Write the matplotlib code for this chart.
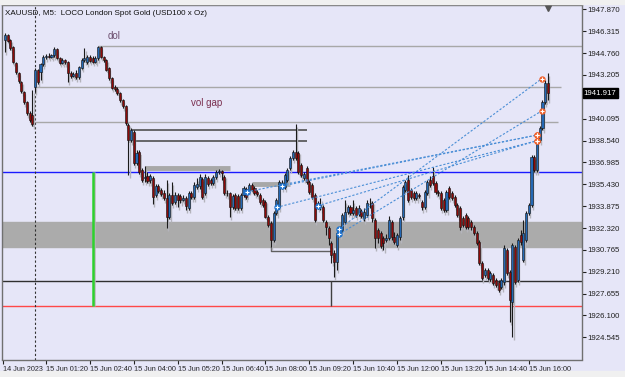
import matplotlib
matplotlib.use('Agg')
import matplotlib.pyplot as plt
from matplotlib.patches import Rectangle

# XAUUSD M5 candles, 14 Jun 22:05 .. 15 Jun 16:35 (bar index = position)
opens = [
    1945.69, 1946.04, 1945.69, 1945.19, 1944.05, 1943.34, 1942.70, 1941.99, 1941.28, 1940.50,
    1940.35, 1942.34, 1943.55, 1943.41, 1943.98, 1944.48, 1944.55, 1944.48, 1944.62, 1945.05,
    1944.41, 1944.05, 1944.26, 1944.12, 1943.34, 1943.13, 1943.34, 1943.06, 1943.70, 1944.26,
    1944.12, 1944.48, 1944.41, 1944.12, 1944.41, 1945.19, 1944.48, 1944.26, 1943.70, 1942.98,
    1942.34, 1942.20, 1941.92, 1941.42, 1940.99, 1939.64, 1938.58, 1939.15, 1936.94, 1937.72,
    1936.44, 1935.87, 1936.02, 1935.73, 1935.87, 1934.67, 1935.31, 1935.02, 1934.81, 1934.45,
    1933.10, 1934.67, 1934.17, 1934.67, 1934.60, 1934.31, 1934.45, 1933.74, 1934.81, 1934.52,
    1935.23, 1935.31, 1935.80, 1934.81, 1935.87, 1935.73, 1935.52, 1935.94, 1936.30, 1936.37,
    1935.94, 1934.81, 1934.81, 1933.81, 1934.67, 1934.60, 1933.74, 1934.67, 1935.09, 1935.02,
    1935.38, 1935.16, 1934.88, 1934.67, 1934.31, 1934.17, 1933.10, 1932.67, 1931.47, 1933.39,
    1933.81, 1935.23, 1935.23, 1935.73, 1936.58, 1937.29, 1937.72, 1937.65, 1936.80, 1935.87,
    1936.58, 1935.59, 1935.38, 1934.67, 1933.81, 1933.96, 1933.81, 1932.75, 1932.32, 1931.25,
    1930.54, 1929.90, 1931.96, 1932.18, 1932.75, 1933.46, 1933.81, 1933.39, 1933.74, 1933.31,
    1933.53, 1933.03, 1933.24, 1934.03, 1934.10, 1932.89, 1932.18, 1931.96, 1931.61, 1931.47,
    1931.61, 1932.75, 1931.68, 1931.11, 1931.68, 1933.10, 1935.02, 1935.73, 1935.02, 1934.81,
    1934.45, 1934.67, 1934.17, 1933.81, 1934.81, 1935.73, 1936.02, 1935.52, 1934.88, 1934.81,
    1934.31, 1933.60, 1935.16, 1934.81, 1934.52, 1933.96, 1933.74, 1933.03, 1933.24, 1933.03,
    1932.75, 1932.39, 1931.96, 1931.32, 1929.83, 1928.98, 1929.33, 1928.69, 1928.98, 1928.62,
    1928.48, 1928.12, 1928.48, 1930.76, 1929.19, 1927.06, 1930.97, 1928.62, 1931.82, 1930.05,
    1931.47, 1933.39, 1933.96, 1937.37, 1936.44, 1938.58, 1939.43, 1941.28, 1942.63,
]
highs = [
    1946.18, 1946.11, 1945.76, 1945.26, 1944.12, 1943.41, 1942.77, 1942.06, 1941.35, 1940.64,
    1942.13, 1943.70, 1943.62, 1944.05, 1944.62, 1944.69, 1944.76, 1944.69, 1945.19, 1945.12,
    1944.48, 1944.41, 1944.34, 1944.19, 1943.48, 1943.41, 1943.55, 1943.84, 1944.41, 1945.12,
    1944.62, 1944.62, 1944.55, 1944.55, 1945.26, 1945.26, 1944.55, 1944.34, 1943.77, 1943.06,
    1942.49, 1942.34, 1941.99, 1941.49, 1941.06, 1939.78, 1939.43, 1939.29, 1937.87, 1937.87,
    1936.58, 1936.73, 1936.30, 1936.16, 1936.02, 1935.45, 1935.45, 1935.16, 1935.02, 1935.73,
    1934.81, 1935.59, 1934.88, 1934.81, 1934.74, 1934.67, 1934.60, 1934.95, 1934.95, 1935.59,
    1935.87, 1936.16, 1935.94, 1936.16, 1936.02, 1935.87, 1936.09, 1936.44, 1936.51, 1936.44,
    1936.09, 1935.02, 1934.88, 1934.74, 1934.81, 1934.74, 1934.81, 1935.31, 1935.23, 1935.52,
    1935.52, 1935.31, 1935.02, 1934.81, 1934.45, 1934.31, 1933.24, 1932.82, 1933.53, 1934.45,
    1935.73, 1935.73, 1936.23, 1936.58, 1937.44, 1937.87, 1939.71, 1937.80, 1936.94, 1936.30,
    1936.73, 1935.73, 1935.52, 1934.81, 1934.24, 1934.45, 1933.96, 1932.89, 1932.46, 1931.40,
    1930.76, 1932.18, 1932.46, 1933.39, 1934.31, 1933.96, 1933.96, 1934.31, 1933.88, 1933.96,
    1933.67, 1933.74, 1934.31, 1934.45, 1934.24, 1933.03, 1932.32, 1932.10, 1931.75, 1931.89,
    1933.17, 1932.89, 1932.03, 1931.96, 1933.17, 1935.38, 1935.73, 1936.09, 1935.16, 1934.95,
    1934.95, 1934.81, 1934.31, 1935.02, 1935.73, 1936.02, 1936.66, 1935.66, 1935.02, 1934.95,
    1934.45, 1935.02, 1935.31, 1934.95, 1934.67, 1934.10, 1933.88, 1933.17, 1933.39, 1933.17,
    1932.89, 1932.53, 1932.10, 1931.47, 1929.97, 1929.48, 1929.48, 1929.26, 1929.12, 1928.77,
    1928.62, 1928.77, 1931.11, 1930.90, 1929.33, 1931.25, 1931.11, 1931.61, 1932.18, 1932.89,
    1933.53, 1934.10, 1937.51, 1937.51, 1938.72, 1939.57, 1941.42, 1942.84, 1943.34,
]
lows = [
    1944.83, 1945.55, 1944.97, 1944.05, 1943.27, 1942.63, 1941.92, 1941.14, 1940.35, 1939.86,
    1939.57, 1941.99, 1942.56, 1942.84, 1943.84, 1944.34, 1944.41, 1944.41, 1944.48, 1944.34,
    1943.98, 1943.98, 1943.98, 1942.70, 1942.98, 1943.06, 1942.91, 1942.91, 1943.62, 1944.12,
    1943.98, 1944.12, 1944.05, 1944.05, 1944.26, 1944.41, 1944.12, 1943.48, 1942.84, 1942.20,
    1942.06, 1941.78, 1941.28, 1940.85, 1939.64, 1936.09, 1938.43, 1936.80, 1936.80, 1936.16,
    1935.59, 1935.59, 1935.52, 1935.52, 1934.03, 1934.52, 1934.81, 1934.60, 1934.31, 1932.32,
    1932.96, 1933.96, 1934.03, 1933.81, 1934.10, 1934.24, 1933.60, 1933.60, 1934.38, 1934.38,
    1935.09, 1935.09, 1934.38, 1934.67, 1935.31, 1935.38, 1935.38, 1935.80, 1936.16, 1935.73,
    1934.67, 1934.60, 1933.10, 1933.67, 1933.60, 1933.60, 1933.60, 1934.52, 1934.38, 1934.88,
    1934.95, 1934.67, 1934.60, 1934.03, 1933.81, 1933.03, 1932.39, 1930.97, 1931.32, 1933.24,
    1933.67, 1935.09, 1935.09, 1935.59, 1936.44, 1937.15, 1937.15, 1936.16, 1935.94, 1935.73,
    1935.45, 1934.74, 1934.38, 1932.75, 1933.67, 1933.60, 1932.75, 1931.82, 1931.11, 1929.83,
    1928.84, 1929.33, 1931.75, 1932.03, 1932.60, 1933.31, 1933.24, 1933.24, 1933.10, 1933.17,
    1933.03, 1932.82, 1933.10, 1933.74, 1932.75, 1930.90, 1931.25, 1930.90, 1930.76, 1931.32,
    1931.47, 1931.47, 1931.18, 1930.97, 1931.47, 1932.89, 1934.88, 1934.17, 1934.38, 1934.31,
    1934.31, 1934.45, 1933.60, 1933.67, 1934.67, 1935.23, 1935.38, 1934.74, 1934.60, 1933.60,
    1933.46, 1933.46, 1934.38, 1934.31, 1933.81, 1933.10, 1932.18, 1932.39, 1932.25, 1932.25,
    1932.18, 1931.82, 1931.11, 1929.69, 1928.62, 1928.84, 1928.62, 1928.55, 1928.27, 1928.12,
    1927.77, 1927.98, 1928.27, 1928.98, 1925.64, 1924.57, 1928.34, 1928.48, 1931.11, 1929.90,
    1931.32, 1933.24, 1933.81, 1936.30, 1936.30, 1938.43, 1939.29, 1941.14, 1941.42,
]
closes = [
    1946.04, 1945.62, 1945.12, 1944.12, 1943.41, 1942.77, 1942.06, 1941.28, 1940.50, 1940.00,
    1939.71, 1943.55, 1942.70, 1943.98, 1944.48, 1944.55, 1944.48, 1944.62, 1945.05, 1944.41,
    1944.05, 1944.26, 1944.12, 1943.34, 1943.13, 1943.27, 1943.06, 1943.77, 1944.26, 1944.41,
    1944.48, 1944.19, 1944.12, 1944.41, 1945.19, 1944.48, 1944.26, 1943.55, 1942.98, 1942.27,
    1942.20, 1941.92, 1941.42, 1940.99, 1939.78, 1938.58, 1939.29, 1936.94, 1937.65, 1936.30,
    1935.73, 1935.94, 1935.66, 1936.02, 1934.52, 1935.31, 1934.95, 1934.74, 1934.45, 1933.10,
    1934.67, 1934.10, 1934.67, 1934.31, 1934.31, 1934.45, 1933.88, 1934.81, 1934.52, 1935.38,
    1935.45, 1935.94, 1934.52, 1935.94, 1935.45, 1935.52, 1935.94, 1936.30, 1936.37, 1936.23,
    1934.81, 1934.78, 1933.81, 1934.60, 1933.74, 1933.74, 1934.67, 1935.16, 1934.52, 1935.38,
    1935.02, 1934.81, 1934.74, 1934.17, 1933.96, 1933.10, 1932.53, 1931.47, 1933.39, 1934.31,
    1935.59, 1935.52, 1936.09, 1936.44, 1937.29, 1937.72, 1937.29, 1936.30, 1936.09, 1936.16,
    1935.59, 1934.88, 1934.52, 1932.89, 1934.10, 1933.81, 1932.89, 1932.39, 1931.61, 1930.40,
    1929.90, 1931.96, 1932.32, 1933.24, 1933.46, 1933.81, 1933.39, 1933.60, 1933.24, 1933.74,
    1933.17, 1933.46, 1934.10, 1934.00, 1933.03, 1931.61, 1931.61, 1931.04, 1931.25, 1931.61,
    1932.89, 1931.68, 1931.32, 1931.82, 1933.03, 1935.23, 1935.59, 1934.31, 1934.52, 1934.45,
    1934.81, 1934.60, 1933.81, 1934.88, 1935.59, 1935.38, 1935.52, 1934.88, 1934.81, 1933.74,
    1933.60, 1934.88, 1934.52, 1934.45, 1933.96, 1933.24, 1932.39, 1932.53, 1932.39, 1932.39,
    1932.39, 1931.96, 1931.25, 1929.83, 1928.76, 1929.33, 1928.76, 1929.12, 1928.41, 1928.27,
    1927.91, 1928.62, 1930.90, 1929.12, 1927.20, 1931.11, 1928.48, 1931.47, 1931.32, 1931.96,
    1933.39, 1933.96, 1937.37, 1936.44, 1938.58, 1939.43, 1941.28, 1942.63, 1941.92,
]

ytick_vals = [1947.870, 1946.315, 1944.760, 1943.205, 1941.650, 1940.095, 1938.540,
              1936.985, 1935.430, 1933.875, 1932.320, 1930.765, 1929.210, 1927.655,
              1926.100, 1924.545]
xtick_bars = [-0.7, 15, 31, 47, 63, 79, 95, 111, 127, 143, 159, 175, 191]
xtick_labels = ['14 Jun 2023', '15 Jun 01:20', '15 Jun 02:40', '15 Jun 04:00',
                '15 Jun 05:20', '15 Jun 06:40', '15 Jun 08:00', '15 Jun 09:20',
                '15 Jun 10:40', '15 Jun 12:00', '15 Jun 13:20', '15 Jun 14:40',
                '15 Jun 16:00']

# drawn objects on the chart (price levels / bars)
dol_level = 1945.24
gap_top = 1942.37
gap_bottom = 1939.83
ob_lines = [1939.32, 1938.54]
grey_bars = [(51, 82, 1936.61), (90, 104, 1935.48)]
blue_level = 1936.30
zone_low, zone_high = 1931.00, 1932.78
black_level = 1928.55
red_level = 1926.74
day_sep_bar = 11
green_bar = 32
last_price = 1941.917

# dotted trade links: (open bar, open price, close bar, close price)
trades = [
    (88.2, 1934.90, 194.0, 1938.93),
    (101.1, 1935.31, 194.0, 1938.93),
    (99.1, 1933.79, 194.0, 1938.53),
    (114.1, 1933.90, 194.0, 1938.53),
    (121.8, 1932.25, 195.8, 1942.95),
    (121.8, 1931.87, 195.8, 1940.66),
]

plt.rcParams['font.family'] = ['Liberation Sans', 'DejaVu Sans']
bg = '#e6e6f8'

fig = plt.figure(figsize=(6.25, 3.77), dpi=100, facecolor=bg)
ax = fig.add_axes([2 / 625, 17.5 / 377, 580 / 625, 354.5 / 377], facecolor=bg)

# grey strips at top and bottom of the window
fig.patches.append(Rectangle((0, 1 - 4 / 377), 1, 4 / 377, transform=fig.transFigure,
                             color='#f0f0f0', zorder=0))
fig.patches.append(Rectangle((0, 0), 1, 6 / 377, transform=fig.transFigure,
                             color='#f0f0f0', zorder=0))

ax.set_xlim(-1.04, 210.4)
ax.set_ylim(1922.97, 1948.18)

# zone and levels
ax.axhspan(zone_low, zone_high, color='#ababab', zorder=1)
ax.axhline(blue_level, color='#1a1aff', lw=1, zorder=2)
ax.axhline(black_level, color='#303030', lw=1, zorder=2)
ax.axhline(red_level, color='#ff4848', lw=1, zorder=2)
ax.hlines(dol_level, 34, 211, color='#a8a8a8', lw=1, zorder=2)
ax.hlines([gap_top, gap_bottom], 11, [202.8, 201.8], color='#a8a8a8', lw=1, zorder=2)
ax.hlines(ob_lines, [46, 47], 110, color='#505050', lw=1.2, zorder=2)
for b0, b1, lvl in grey_bars:
    ax.hlines(lvl, b0, b1, color='#a8a8a8', lw=3.5, zorder=2)

ax.axvline(day_sep_bar, color='#303030', lw=0.8, ls=(0, (2, 2)), zorder=2)
ax.vlines(green_bar + 0.6, red_level, blue_level, color='#b8b8b8', lw=1.8, zorder=2)
ax.vlines(green_bar, red_level, blue_level, color='#2ed12e', lw=1.8, zorder=3)

# bracket under the 08:00 low
ax.plot([97, 97, 118.5], [lows[97], 1930.70, 1930.70], color='#606060', lw=1, zorder=2)
ax.vlines(119, red_level, black_level, color='#404040', lw=1, zorder=2)

# candles, with the faint grey ghost the terminal draws beside them
bars = range(len(closes))
for i in bars:
    o, h, l, c = opens[i], highs[i], lows[i], closes[i]
    ax.vlines(i + 0.45, l - 0.2, h - 0.2, color='#b4b4bc', lw=1.0, zorder=3)
    ax.bar(i + 0.45, max(abs(c - o), 0.02), bottom=min(o, c) - 0.2, width=0.75,
           color='#b4b4bc', linewidth=0, zorder=3)
for i in bars:
    o, h, l, c = opens[i], highs[i], lows[i], closes[i]
    face = '#2468b4' if c >= o else '#8e0a0a'
    ax.vlines(i, l, h, color='#1a1a1a', lw=0.8, zorder=4)
    ax.bar(i, max(abs(c - o), 0.02), bottom=min(o, c), width=0.75, color=face,
           edgecolor='#111111', linewidth=0.4, zorder=5)

# trade links
for b0, p0, b1, p1 in trades:
    ax.plot([b0, b1], [p0, p1], color='#4a8ed6', lw=0.8, ls=(0, (2, 1.6)), zorder=6)
for b0, p0, b1, p1 in trades:
    ax.plot(b0, p0, 'o', ms=3.6, color='#1f74d0', zorder=7)
    ax.plot(b0, p0, '+', ms=3.2, mew=0.8, color='white', zorder=8)
    ax.plot(b1, p1, 'o', ms=3.6, color='#f0602a', zorder=7)
    ax.plot(b1, p1, '+', ms=3.2, mew=0.8, color='white', zorder=8)

# texts
ax.text(0.005, 0.985, 'XAUUSD, M5:  LOCO London Spot Gold (USD100 x Oz)',
        transform=ax.transAxes, fontsize=5.8, va='top', ha='left', color='#101010')
ax.text(37.5, dol_level + 0.7, 'dol', fontsize=7, color='#6a4c6c', va='center')
ax.text(68, 1941.2, 'vol gap', fontsize=7, color='#7a2f4f', va='center')

# shift marker at the top
ax.plot(198, 1947.95, marker='v', ms=4, color='#555555', clip_on=False, zorder=9)

# axes styling
for s in ax.spines.values():
    s.set_color('#707070')
    s.set_linewidth(1)
ax.yaxis.tick_right()
ax.set_yticks(ytick_vals)
ax.set_yticklabels([f'{v:.3f}' for v in ytick_vals])
ax.tick_params(axis='y', direction='out', length=3, width=0.8, pad=1,
               labelsize=5.6, colors='#202020')
ax.set_xticks(xtick_bars)
ax.set_xticklabels(xtick_labels, ha='left')
ax.tick_params(axis='x', direction='out', length=3, width=0.8, pad=1.5,
               labelsize=5.2, colors='#202020')

ax.text(1.003, last_price, f'{last_price:.3f}', transform=ax.get_yaxis_transform(),
        fontsize=5.6, color='white', va='center', ha='left', zorder=10,
        bbox=dict(boxstyle='square,pad=0.15', fc='black', ec='black'))

fig.savefig('out.png', dpi=100, facecolor=bg)
